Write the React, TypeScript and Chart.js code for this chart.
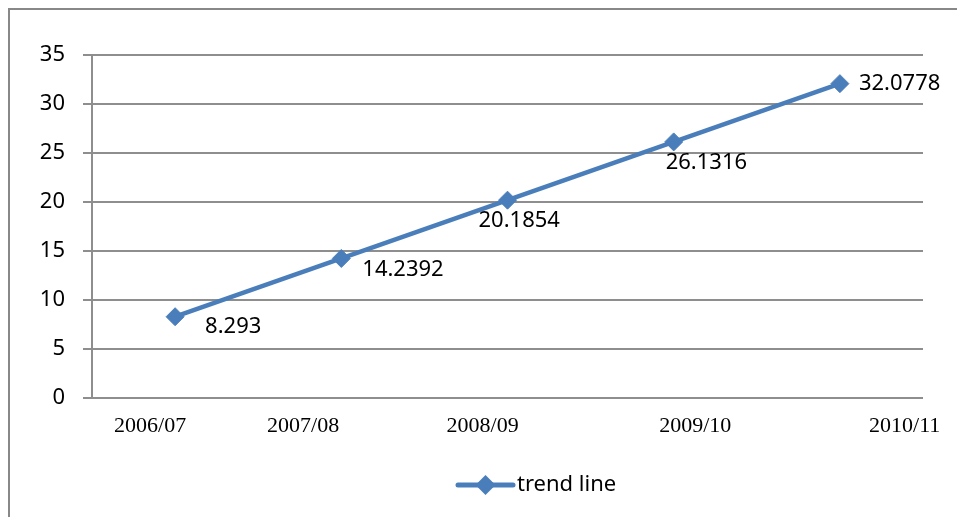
import React, { useEffect, useRef } from "react";
import { Chart, registerables } from "chart.js";

Chart.register(...registerables);

// ---- data ----
const categories = ["2006/07", "2007/08", "2008/09", "2009/10", "2010/11"];
const trendValues = [8.293, 14.2392, 20.1854, 26.1316, 32.0778];
const valueLabels = ["8.293", "14.2392", "20.1854", "26.1316", "32.0778"];
const yTickValues = [0, 5, 10, 15, 20, 25, 30, 35];
const seriesName = "trend line";

// ---- layout / style constants ----
// where each category label sits along the category axis (category units)
const categoryLabelSlots = [-0.15, 0.77, 1.85, 3.13, 4.39];
// pixel offsets of the value labels from their point
const valueLabelOffsets: [number, number][] = [
  [30, 10],
  [21, 11],
  [-29, 21],
  [-8, 21],
  [19, 0],
];
const LINE_COLOR = "#4a7ebb";
const GRID_COLOR = "#8e8e8e";
const SANS = '"Noto Sans", "Open Sans", sans-serif';
const SERIF = '"Liberation Serif", "Times New Roman", serif';

const W = 955;
const H = 507;

const valueLabelPlugin = {
  id: "valueLabels",
  afterDatasetsDraw(chart: any) {
    const ctx = chart.ctx;
    const meta = chart.getDatasetMeta(0);
    ctx.save();
    ctx.font = `22px ${SANS}`;
    ctx.fillStyle = "#000";
    ctx.textAlign = "left";
    ctx.textBaseline = "middle";
    meta.data.forEach((pt: any, i: number) => {
      const [dx, dy] = valueLabelOffsets[i];
      ctx.fillText(valueLabels[i], pt.x + dx, pt.y + dy);
    });
    ctx.restore();
  },
};

const legendPlugin = {
  id: "customLegend",
  afterDraw(chart: any) {
    const ctx = chart.ctx;
    const area = chart.chartArea;
    const x0 = area.left + 366;
    const y0 = area.bottom + 87;
    const lineLen = 55;
    ctx.save();
    ctx.strokeStyle = LINE_COLOR;
    ctx.lineWidth = 5;
    ctx.lineCap = "round";
    ctx.beginPath();
    ctx.moveTo(x0, y0);
    ctx.lineTo(x0 + lineLen, y0);
    ctx.stroke();
    const cx = x0 + lineLen / 2;
    const r = 10;
    ctx.fillStyle = LINE_COLOR;
    ctx.beginPath();
    ctx.moveTo(cx, y0 - r);
    ctx.lineTo(cx + r, y0);
    ctx.lineTo(cx, y0 + r);
    ctx.lineTo(cx - r, y0);
    ctx.closePath();
    ctx.fill();
    ctx.font = `22px ${SANS}`;
    ctx.fillStyle = "#000";
    ctx.textAlign = "left";
    ctx.textBaseline = "middle";
    ctx.fillText(seriesName, x0 + lineLen + 4, y0);
    ctx.restore();
  },
};

export default function App() {
  const canvasRef = useRef<HTMLCanvasElement | null>(null);

  useEffect(() => {
    const canvas = canvasRef.current;
    if (!canvas) return;
    const chart = new Chart(canvas, {
      type: "line",
      data: {
        datasets: [
          {
            label: seriesName,
            data: trendValues.map((v, i) => ({ x: i, y: v })),
            borderColor: LINE_COLOR,
            backgroundColor: LINE_COLOR,
            borderWidth: 4.5,
            pointStyle: "rectRot",
            pointRadius: 9,
            pointBorderWidth: 1,
            pointBackgroundColor: LINE_COLOR,
            pointBorderColor: LINE_COLOR,
            tension: 0,
          },
        ],
      },
      options: {
        responsive: false,
        animation: false,
        layout: { padding: { top: 45, right: 42, bottom: 0, left: 0 } },
        plugins: {
          legend: { display: false },
          tooltip: { enabled: false },
        },
        scales: {
          x: {
            type: "linear",
            min: -0.5,
            max: 4.5,
            grid: { display: false, drawTicks: false },
            border: { display: false },
            afterBuildTicks: (axis: any) => {
              axis.ticks = categoryLabelSlots.map((v) => ({ value: v }));
            },
            afterFit: (axis: any) => {
              axis.height = 119;
            },
            ticks: {
              autoSkip: false,
              maxRotation: 0,
              padding: 15,
              color: "#000",
              font: { family: SERIF, size: 22 },
              callback: (_v: any, i: number) => categories[i],
            },
          },
          y: {
            min: 0,
            max: 35,
            afterBuildTicks: (axis: any) => {
              axis.ticks = yTickValues.map((v) => ({ value: v }));
            },
            afterFit: (axis: any) => {
              axis.width = 82;
            },
            grid: { color: GRID_COLOR, lineWidth: 2, tickLength: 9, drawTicks: true },
            border: { display: true, color: GRID_COLOR, width: 2 },
            ticks: {
              padding: 18,
              color: "#000",
              font: { family: SANS, size: 22 },
            },
          },
        },
      },
      plugins: [valueLabelPlugin, legendPlugin],
    } as any);
    return () => chart.destroy();
  }, []);

  return (
    <div
      style={{
        borderLeft: "2px solid #888",
        borderTop: "2px solid #888",
        width: W,
        height: H,
        background: "#fff",
      }}
    >
      <canvas ref={canvasRef} width={W} height={H} style={{ display: "block" }} />
    </div>
  );
}
